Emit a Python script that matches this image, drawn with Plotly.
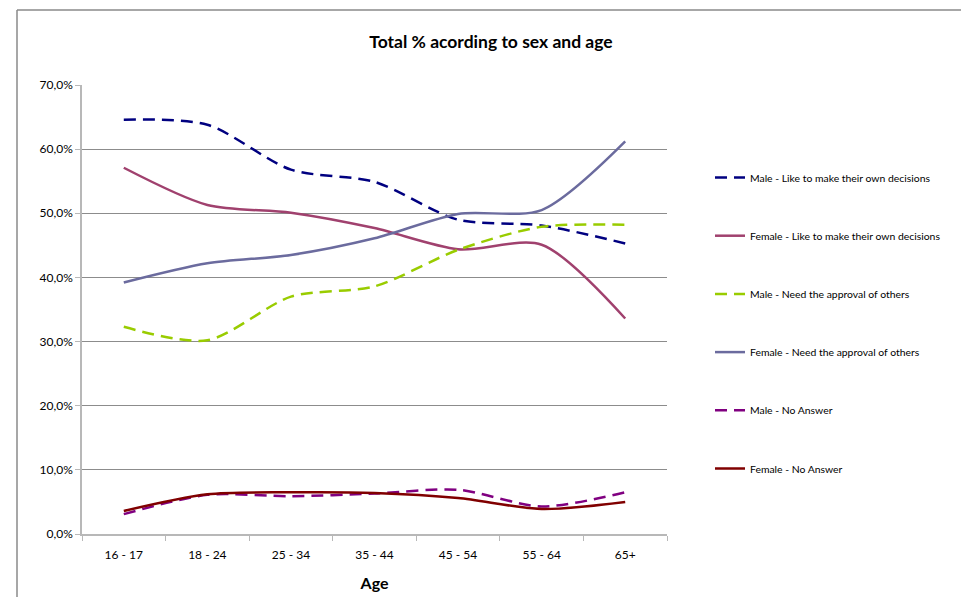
import plotly.graph_objects as go

ages = ["16 - 17", "18 - 24", "25 - 34", "35 - 44", "45 - 54", "55 - 64", "65+"]

male_like = [64.6, 63.8, 56.8, 54.9, 49.0, 48.1, 45.3]
female_like = [57.1, 51.3, 50.1, 47.7, 44.4, 45.1, 33.6]
male_need = [32.3, 30.2, 37.0, 38.6, 44.3, 47.9, 48.2]
female_need = [39.2, 42.2, 43.5, 46.1, 49.9, 50.5, 61.2]
male_na = [3.1, 6.1, 5.9, 6.3, 6.9, 4.3, 6.5]
female_na = [3.6, 6.2, 6.5, 6.4, 5.6, 3.9, 5.0]

y_tick_vals = [0, 10, 20, 30, 40, 50, 60, 70]
y_tick_text = ["0,0%", "10,0%", "20,0%", "30,0%", "40,0%", "50,0%", "60,0%", "70,0%"]

series = [
    ("Male - Like to make their own decisions", male_like, "#000080", "dash"),
    ("Female - Like to make their own decisions", female_like, "#A0416E", "solid"),
    ("Male - Need the approval of others", male_need, "#99CC00", "dash"),
    ("Female - Need the approval of others", female_need, "#6B6B9E", "solid"),
    ("Male - No Answer", male_na, "#800080", "dash"),
    ("Female - No Answer", female_na, "#800000", "solid"),
]

FONT = "Lato"
OFF = 8  # page body margin
W, H = 969 - OFF, 597 - OFF
L, R, T, B = 82 - OFF, 667 - OFF, 85 - OFF, 534 - OFF

fig = go.Figure()
for i, (name, vals, color, dash) in enumerate(series):
    fig.add_trace(go.Scatter(
        x=ages, y=vals, name=name, mode="lines",
        line=dict(color=color, width=2.5, dash="12px,7px" if dash == "dash" else "solid",
                  shape="spline", smoothing=0.8),
        legendgroup=f"g{i}",
    ))

def px_x(p):
    return (p - OFF - L) / (R - L)

def px_y(p):
    return (B - (p - OFF)) / (B - T)

border = "#8A8A8A"
shapes = [
    dict(type="line", xref="paper", yref="paper", x0=px_x(17), x1=px_x(17), y0=px_y(10), y1=px_y(640),
         line=dict(color=border, width=1.5)),
    dict(type="line", xref="paper", yref="paper", x0=px_x(17), x1=px_x(968), y0=px_y(10), y1=px_y(10),
         line=dict(color=border, width=1.5)),
    dict(type="line", xref="paper", yref="paper", x0=px_x(968), x1=px_x(968), y0=px_y(10), y1=px_y(640),
         line=dict(color=border, width=1.5)),
]

fig.update_layout(
    width=W, height=H,
    margin=dict(l=L, r=W - R, t=T, b=H - B, autoexpand=False),
    paper_bgcolor="white", plot_bgcolor="white",
    font=dict(family=FONT, color="#000000", size=12),
    title=dict(text="<b>Total % acording to sex and age</b>", x=(491 - OFF) / W, xanchor="center",
               y=1 - (42 - OFF) / H, yanchor="middle", font=dict(size=17.5, family=FONT)),
    showlegend=True,
    legend=dict(x=px_x(710), xanchor="left", y=px_y(163), yanchor="top",
                font=dict(size=10.4, family=FONT), tracegroupgap=39.2,
                itemwidth=30, bgcolor="rgba(0,0,0,0)"),
    shapes=shapes,
)

fig.update_xaxes(
    type="category", showgrid=False, showline=True, linecolor="#B8B8B8", linewidth=1.5,
    ticks="outside", tickson="boundaries", ticklen=5, tickcolor="#B8B8B8",
    tickfont=dict(size=12, family=FONT), automargin=False, ticklabelstandoff=9,
    title=dict(text="<b>Age</b>", font=dict(size=16, family=FONT), standoff=17),
    range=[-0.5, 6.5],
)
fig.update_yaxes(
    range=[0, 70], tickvals=y_tick_vals, ticktext=y_tick_text,
    showgrid=True, gridcolor="#8C8C8C", gridwidth=1,
    showline=True, linecolor="#B8B8B8", linewidth=1.5,
    ticks="outside", ticklen=5, tickcolor="#B8B8B8", automargin=False,
    tickfont=dict(size=12, family=FONT), zeroline=False,
)

fig.write_html("out.html")
